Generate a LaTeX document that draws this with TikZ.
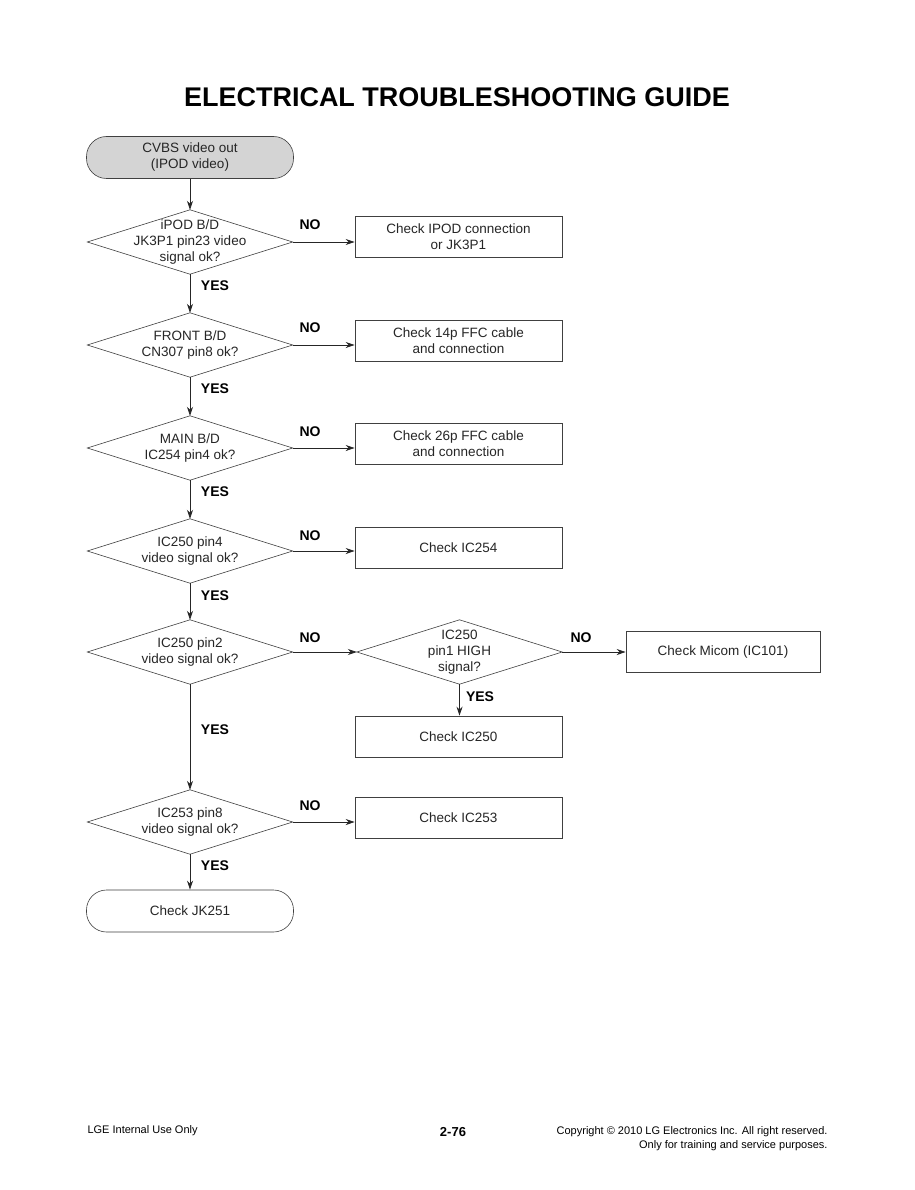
\documentclass[tikz,border=0pt]{standalone}
\usepackage{fontspec}
\setmainfont{Liberation Sans}
\usetikzlibrary{shapes.geometric,arrows.meta}
\tikzset{
  every node/.style={font=\fontsize{13.5}{16}\selectfont, text=black!85},
  dec/.style={draw=none, rectangle, minimum width=205pt, minimum height=64pt, inner sep=0pt, align=center},
  dline/.style={draw=black!75, line width=0.6pt},
  chk/.style={draw=black!75, line width=0.6pt, rectangle, minimum width=207pt, minimum height=41pt, inner sep=0pt, align=center},
  term/.style={draw=black!75, line width=0.6pt, rectangle, rounded corners=20pt, minimum width=207pt, minimum height=42pt, inner sep=0pt, align=center},
  yn/.style={font=\fontsize{14}{16}\selectfont\bfseries, text=black},
  arr/.style={draw=black!85, line width=0.8pt, -{Stealth[length=9pt,width=6pt]}},
  foot/.style={font=\fontsize{11}{14}\selectfont, text=black}
}
\newcommand{\drawdec}[1]{\draw[dline] (#1.north) -- (#1.east) -- (#1.south) -- (#1.west) -- cycle;}
\begin{document}
\begin{tikzpicture}[x=1pt,y=-1pt]
\useasboundingbox (0,0) rectangle (914,1190);
\fill[white] (0,0) rectangle (914,1190);
\node[font=\fontsize{27}{30}\selectfont\bfseries, text=black] (title) at (457,97) {ELECTRICAL TROUBLESHOOTING GUIDE};

\node[term, fill=black!17] (start) at (190,157.5) {CVBS video out\\(IPOD video)};
\node[dec] (d1) at (190,242) {iPOD B/D\\JK3P1 pin23 video\\signal ok?};
\node[chk] (b1) at (458.5,237) {Check IPOD connection\\or JK3P1};
\node[dec] (d2) at (190,345) {FRONT B/D\\CN307 pin8 ok?};
\node[chk] (b2) at (458.5,340.5) {Check 14p FFC cable\\and connection};
\node[dec] (d3) at (190,448) {MAIN B/D\\IC254 pin4 ok?};
\node[chk] (b3) at (458.5,444) {Check 26p FFC cable\\and connection};
\node[dec] (d4) at (190,551) {IC250 pin4\\video signal ok?};
\node[chk] (b4) at (458.5,547.5) {Check IC254};
\node[dec] (d5) at (190,652) {IC250 pin2\\video signal ok?};
\node[dec] (d6) at (459.5,652) {IC250\\pin1 HIGH\\signal?};
\node[chk, minimum width=194pt] (b6) at (723,652) {Check Micom (IC101)};
\node[chk] (b5) at (458.5,736.5) {Check IC250};
\node[dec] (d7) at (190,822) {IC253 pin8\\video signal ok?};
\node[chk] (b7) at (458.5,817.5) {Check IC253};
\node[term] (end) at (190,911) {Check JK251};
\drawdec{d1}\drawdec{d2}\drawdec{d3}\drawdec{d4}\drawdec{d5}\drawdec{d6}\drawdec{d7}

\draw[arr] (start) -- (d1.north);
\draw[arr] (d1.south) -- (d2.north);
\draw[arr] (d2.south) -- (d3.north);
\draw[arr] (d3.south) -- (d4.north);
\draw[arr] (d4.south) -- (d5.north);
\draw[arr] (d5.south) -- (d7.north);
\draw[arr] (d7.south) -- (end);
\draw[arr] (d1.east) -- (d1.east -| b1.west);
\draw[arr] (d2.east) -- (d2.east -| b2.west);
\draw[arr] (d3.east) -- (d3.east -| b3.west);
\draw[arr] (d4.east) -- (d4.east -| b4.west);
\draw[arr] (d5.east) -- (d6.west);
\draw[arr] (d6.east) -- (b6.west);
\draw[arr] (d6.south) -- (d6.south |- b5.north);
\draw[arr] (d7.east) -- (d7.east -| b7.west);

\node[yn] (n1) at (310,225) {NO};
\node[yn] (n2) at (310,328) {NO};
\node[yn] (n3) at (310,432) {NO};
\node[yn] (n4) at (310,536) {NO};
\node[yn] (n5) at (310,638) {NO};
\node[yn] (n6) at (581,638) {NO};
\node[yn] (n7) at (310,806) {NO};
\node[yn] (y1) at (215,286) {YES};
\node[yn] (y2) at (215,389) {YES};
\node[yn] (y3) at (215,492) {YES};
\node[yn] (y4) at (215,596) {YES};
\node[yn] (y5) at (215,730) {YES};
\node[yn] (y6) at (480,697) {YES};
\node[yn] (y7) at (215,866) {YES};

\node[foot, anchor=west] (f1) at (84,1131) {LGE Internal Use Only};
\node[foot, font=\fontsize{13}{15}\selectfont\bfseries] (f2) at (453,1132) {2-76};
\node[foot, anchor=east, align=right] (f3) at (831,1139) {Copyright \textcopyright{} 2010 LG Electronics Inc. All right reserved.\\Only for training and service purposes.};
\end{tikzpicture}
\end{document}
